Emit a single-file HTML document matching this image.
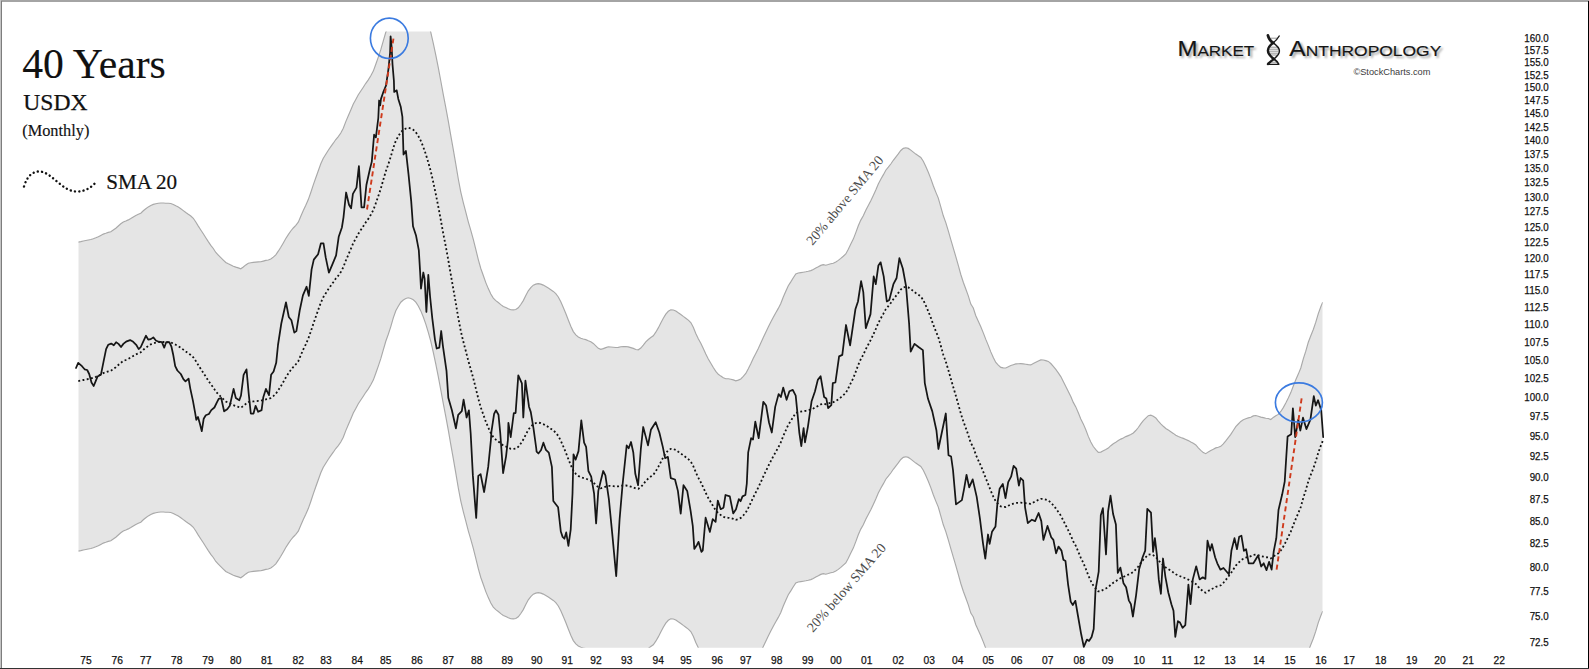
<!DOCTYPE html>
<html lang="en"><head><meta charset="utf-8"><title>40 Years USDX (Monthly)</title>
<style>
html,body{margin:0;padding:0;background:#fff;}
body{width:1589px;height:669px;overflow:hidden;}
svg{display:block;}
.serif{font-family:"Liberation Serif",serif;}
.sans{font-family:"Liberation Sans",sans-serif;}
</style></head><body>
<svg width="1589" height="669" viewBox="0 0 1589 669">
<defs>
<clipPath id="plot"><rect x="78.3" y="31.5" width="1244.4" height="616.2"/></clipPath>
<filter id="blur" x="-10%" y="-40%" width="120%" height="200%"><feGaussianBlur stdDeviation="1.3"/></filter>
</defs>
<rect x="0" y="0" width="1589" height="669" fill="#fff"/>
<g clip-path="url(#plot)">
<path d="M78.3,242.1L80.8,241.6L83.3,241.0L85.8,240.5L88.3,240.0L90.8,239.5L93.3,238.7L95.8,237.8L98.3,236.8L100.8,235.4L103.3,234.1L105.8,233.3L108.3,232.4L110.8,231.8L113.3,230.0L115.8,228.2L118.3,226.0L120.8,223.8L123.3,222.0L125.8,221.0L128.3,219.9L130.8,218.5L133.3,216.9L135.8,215.4L138.3,214.3L140.8,213.2L143.3,210.8L145.8,208.8L148.3,206.9L150.8,205.4L153.3,204.4L155.8,203.7L158.3,203.2L160.8,203.0L163.3,203.0L165.8,203.2L168.3,203.3L170.8,203.5L173.3,204.4L175.8,205.8L178.3,207.1L180.8,208.7L183.3,210.6L185.8,212.5L188.3,214.3L190.8,216.0L193.3,218.3L195.8,222.0L198.3,226.1L200.8,230.0L203.3,233.8L205.8,237.7L208.3,241.6L210.8,245.3L213.3,248.5L215.8,252.5L218.3,255.1L220.8,257.6L223.3,260.1L225.8,262.5L228.3,263.8L230.8,264.9L233.3,266.2L235.8,267.1L238.3,267.9L240.8,268.8L243.3,267.0L245.8,264.9L248.3,263.2L250.8,262.8L253.3,262.4L255.8,262.1L258.3,261.9L260.8,261.8L263.3,261.1L265.8,260.4L268.3,260.0L270.8,259.0L273.3,257.1L275.8,254.8L278.3,251.2L280.8,247.3L283.3,243.0L285.8,238.5L288.3,234.6L290.8,231.0L293.3,228.0L295.8,225.3L298.3,222.2L300.8,216.2L303.3,210.4L305.8,205.3L308.3,199.6L310.8,192.5L313.3,184.9L315.8,177.8L318.3,170.7L320.8,163.7L323.3,158.2L325.8,154.2L328.3,150.2L330.8,146.7L333.3,143.2L335.8,139.5L338.3,136.6L340.8,133.0L343.3,128.3L345.8,121.6L348.3,115.8L350.8,110.0L353.3,104.0L355.8,99.5L358.3,94.8L360.8,91.0L363.3,87.2L365.8,83.3L368.3,79.9L370.8,75.7L373.3,71.1L375.8,64.3L378.3,57.1L380.8,49.7L383.3,40.8L385.8,32.3L388.3,25.3L390.8,17.6L393.3,8.9L395.8,1.8L398.3,-2.8L400.8,-6.8L403.3,-9.0L405.8,-10.5L408.3,-11.2L410.8,-10.5L413.3,-9.2L415.8,-6.8L418.3,-3.0L420.8,1.9L423.3,8.0L425.8,15.1L428.3,23.4L430.8,32.3L433.3,43.4L435.8,55.1L438.3,67.7L440.8,81.0L443.3,94.7L445.8,107.6L448.3,121.1L450.8,135.7L453.3,149.7L455.8,164.1L458.3,179.0L460.8,192.1L463.3,202.6L465.8,212.1L468.3,221.8L470.8,230.4L473.3,239.4L475.8,249.4L478.3,259.6L480.8,268.5L483.3,275.5L485.8,282.6L488.3,288.6L490.8,294.1L493.3,298.1L495.8,300.6L498.3,302.5L500.8,304.6L503.3,306.5L505.8,307.5L508.3,308.7L510.8,309.8L513.3,309.9L515.8,309.5L518.3,307.8L520.8,304.5L523.3,300.6L525.8,295.6L528.3,290.8L530.8,287.6L533.3,285.2L535.8,284.1L538.3,283.6L540.8,284.1L543.3,285.1L545.8,286.5L548.3,288.0L550.8,289.7L553.3,291.4L555.8,293.7L558.3,297.0L560.8,301.7L563.3,307.5L565.8,313.5L568.3,320.0L570.8,326.2L573.3,331.6L575.8,334.9L578.3,336.9L580.8,338.3L583.3,339.0L585.8,339.6L588.3,340.7L590.8,341.7L593.3,343.4L595.8,345.8L598.3,348.3L600.8,349.3L603.3,348.6L605.8,347.6L608.3,346.8L610.8,347.0L613.3,347.2L615.8,347.5L618.3,347.4L620.8,346.7L623.3,346.6L625.8,346.5L628.3,346.9L630.8,347.6L633.3,348.4L635.8,349.5L638.3,349.8L640.8,348.1L643.3,345.2L645.8,341.9L648.3,339.5L650.8,337.5L653.3,335.8L655.8,332.2L658.3,327.9L660.8,323.1L663.3,318.2L665.8,314.1L668.3,311.3L670.8,309.8L673.3,310.0L675.8,311.0L678.3,312.8L680.8,314.5L683.3,316.4L685.8,318.2L688.3,320.1L690.8,322.6L693.3,327.2L695.8,333.4L698.3,338.7L700.8,343.2L703.3,348.5L705.8,354.0L708.3,359.0L710.8,363.2L713.3,367.5L715.8,371.4L718.3,374.3L720.8,376.1L723.3,377.8L725.8,378.7L728.3,378.8L730.8,379.2L733.3,379.9L735.8,380.9L738.3,380.1L740.8,378.9L743.3,376.4L745.8,373.5L748.3,368.8L750.8,363.7L753.3,358.3L755.8,353.4L758.3,348.5L760.8,343.1L763.3,337.5L765.8,332.3L768.3,327.1L770.8,322.1L773.3,317.3L775.8,312.8L778.3,308.4L780.8,303.4L783.3,297.0L785.8,291.3L788.3,285.7L790.8,281.9L793.3,277.8L795.8,273.9L798.3,273.0L800.8,272.6L803.3,272.2L805.8,271.8L808.3,271.3L810.8,270.6L813.3,269.5L815.8,268.1L818.3,266.8L820.8,265.4L823.3,264.6L825.8,265.2L828.3,264.5L830.8,263.7L833.3,263.2L835.8,261.9L838.3,260.4L840.8,258.4L843.3,256.2L845.8,253.9L848.3,249.3L850.8,244.1L853.3,239.1L855.8,232.6L858.3,225.8L860.8,220.1L863.3,215.7L865.8,210.2L868.3,205.5L870.8,200.8L873.3,195.5L875.8,190.0L878.3,184.1L880.8,179.3L883.3,174.9L885.8,170.2L888.3,167.2L890.8,164.0L893.3,160.3L895.8,157.1L898.3,153.9L900.8,150.5L903.3,148.4L905.8,147.8L908.3,148.4L910.8,150.1L913.3,152.1L915.8,154.1L918.3,155.7L920.8,157.5L923.3,161.2L925.8,166.5L928.3,172.3L930.8,178.6L933.3,185.8L935.8,192.1L938.3,198.1L940.8,206.8L943.3,215.8L945.8,222.6L948.3,230.9L950.8,239.7L953.3,248.2L955.8,256.6L958.3,265.3L960.8,274.5L963.3,282.2L965.8,289.0L968.3,295.9L970.8,304.1L973.3,308.0L975.8,315.7L978.3,321.3L980.8,326.7L983.3,332.9L985.8,339.4L988.3,345.4L990.8,351.9L993.3,357.6L995.8,362.5L998.3,365.1L1000.8,367.4L1003.3,367.9L1005.8,368.0L1008.3,366.7L1010.8,365.5L1013.3,364.7L1015.8,363.9L1018.3,363.8L1020.8,363.6L1023.3,363.9L1025.8,364.2L1028.3,364.6L1030.8,364.9L1033.3,363.5L1035.8,362.2L1038.3,360.9L1040.8,359.9L1043.3,360.0L1045.8,360.6L1048.3,361.4L1050.8,363.5L1053.3,366.3L1055.8,369.4L1058.3,372.9L1060.8,376.6L1063.3,381.5L1065.8,386.5L1068.3,391.4L1070.8,396.6L1073.3,402.4L1075.8,406.9L1078.3,412.8L1080.8,418.9L1083.3,423.9L1085.8,429.8L1088.3,436.4L1090.8,441.9L1093.3,446.5L1095.8,449.7L1098.3,452.4L1100.8,452.1L1103.3,450.7L1105.8,449.5L1108.3,448.1L1110.8,445.7L1113.3,443.7L1115.8,442.2L1118.3,440.6L1120.8,439.1L1123.3,438.0L1125.8,436.6L1128.3,435.6L1130.8,434.6L1133.3,433.0L1135.8,430.5L1138.3,427.5L1140.8,423.9L1143.3,420.6L1145.8,418.2L1148.3,415.7L1150.8,415.2L1153.3,416.2L1155.8,417.9L1158.3,421.1L1160.8,423.8L1163.3,426.3L1165.8,428.5L1168.3,430.1L1170.8,431.7L1173.3,433.4L1175.8,435.3L1178.3,436.5L1180.8,437.5L1183.3,438.4L1185.8,439.5L1188.3,440.6L1190.8,442.0L1193.3,443.3L1195.8,444.9L1198.3,447.8L1200.8,450.3L1203.3,452.6L1205.8,453.7L1208.3,451.9L1210.8,450.5L1213.3,449.3L1215.8,447.9L1218.3,447.2L1220.8,446.3L1223.3,443.9L1225.8,440.9L1228.3,437.6L1230.8,434.3L1233.3,430.5L1235.8,426.6L1238.3,424.0L1240.8,421.4L1243.3,419.7L1245.8,418.7L1248.3,417.9L1250.8,417.2L1253.3,415.9L1255.8,415.5L1258.3,416.3L1260.8,417.1L1263.3,417.6L1265.8,418.2L1268.3,418.5L1270.8,419.5L1273.3,417.4L1275.8,415.8L1278.3,414.4L1280.8,411.5L1283.3,407.6L1285.8,402.9L1288.3,397.9L1290.8,392.6L1293.3,386.0L1295.8,379.8L1298.3,374.1L1300.8,368.0L1303.3,358.8L1305.8,351.2L1308.3,342.3L1310.8,335.7L1313.3,329.5L1315.8,322.2L1318.3,313.6L1320.8,306.8L1322.7,302.1L1322.7,611.1L1320.8,615.8L1318.3,622.6L1315.8,631.2L1313.3,638.5L1310.8,644.7L1308.3,651.3L1305.8,660.2L1303.3,667.8L1300.8,677.0L1298.3,683.1L1295.8,688.8L1293.3,695.0L1290.8,701.6L1288.3,706.9L1285.8,711.9L1283.3,716.6L1280.8,720.5L1278.3,723.4L1275.8,724.8L1273.3,726.4L1270.8,728.5L1268.3,727.5L1265.8,727.2L1263.3,726.6L1260.8,726.1L1258.3,725.3L1255.8,724.5L1253.3,724.9L1250.8,726.2L1248.3,726.9L1245.8,727.7L1243.3,728.7L1240.8,730.4L1238.3,733.0L1235.8,735.6L1233.3,739.5L1230.8,743.3L1228.3,746.6L1225.8,749.9L1223.3,752.9L1220.8,755.3L1218.3,756.2L1215.8,756.9L1213.3,758.3L1210.8,759.5L1208.3,760.9L1205.8,762.7L1203.3,761.6L1200.8,759.3L1198.3,756.8L1195.8,753.9L1193.3,752.3L1190.8,751.0L1188.3,749.6L1185.8,748.5L1183.3,747.4L1180.8,746.5L1178.3,745.5L1175.8,744.3L1173.3,742.4L1170.8,740.7L1168.3,739.1L1165.8,737.5L1163.3,735.3L1160.8,732.8L1158.3,730.1L1155.8,726.9L1153.3,725.2L1150.8,724.2L1148.3,724.7L1145.8,727.2L1143.3,729.6L1140.8,732.9L1138.3,736.5L1135.8,739.5L1133.3,742.0L1130.8,743.6L1128.3,744.6L1125.8,745.6L1123.3,747.0L1120.8,748.1L1118.3,749.6L1115.8,751.2L1113.3,752.7L1110.8,754.7L1108.3,757.1L1105.8,758.5L1103.3,759.7L1100.8,761.1L1098.3,761.4L1095.8,758.7L1093.3,755.5L1090.8,750.9L1088.3,745.4L1085.8,738.8L1083.3,732.9L1080.8,727.9L1078.3,721.8L1075.8,715.9L1073.3,711.4L1070.8,705.6L1068.3,700.4L1065.8,695.5L1063.3,690.5L1060.8,685.6L1058.3,681.9L1055.8,678.4L1053.3,675.3L1050.8,672.5L1048.3,670.4L1045.8,669.6L1043.3,669.0L1040.8,668.9L1038.3,669.9L1035.8,671.2L1033.3,672.5L1030.8,673.9L1028.3,673.6L1025.8,673.2L1023.3,672.9L1020.8,672.6L1018.3,672.8L1015.8,672.9L1013.3,673.7L1010.8,674.5L1008.3,675.7L1005.8,677.0L1003.3,676.9L1000.8,676.4L998.3,674.1L995.8,671.5L993.3,666.6L990.8,660.9L988.3,654.4L985.8,648.4L983.3,641.9L980.8,635.7L978.3,630.3L975.8,624.7L973.3,617.0L970.8,613.1L968.3,604.9L965.8,598.0L963.3,591.2L960.8,583.5L958.3,574.3L955.8,565.6L953.3,557.2L950.8,548.7L948.3,539.9L945.8,531.6L943.3,524.8L940.8,515.8L938.3,507.1L935.8,501.1L933.3,494.8L930.8,487.6L928.3,481.3L925.8,475.5L923.3,470.2L920.8,466.5L918.3,464.7L915.8,463.1L913.3,461.1L910.8,459.1L908.3,457.4L905.8,456.8L903.3,457.4L900.8,459.5L898.3,462.9L895.8,466.1L893.3,469.3L890.8,473.0L888.3,476.2L885.8,479.2L883.3,483.9L880.8,488.3L878.3,493.1L875.8,499.0L873.3,504.5L870.8,509.8L868.3,514.5L865.8,519.2L863.3,524.7L860.8,529.1L858.3,534.8L855.8,541.6L853.3,548.1L850.8,553.1L848.3,558.3L845.8,562.9L843.3,565.2L840.8,567.4L838.3,569.4L835.8,570.9L833.3,572.2L830.8,572.7L828.3,573.5L825.8,574.2L823.3,573.6L820.8,574.4L818.3,575.8L815.8,577.1L813.3,578.5L810.8,579.6L808.3,580.3L805.8,580.8L803.3,581.2L800.8,581.6L798.3,582.0L795.8,582.9L793.3,586.8L790.8,590.9L788.3,594.7L785.8,600.3L783.3,606.0L780.8,612.4L778.3,617.4L775.8,621.8L773.3,626.3L770.8,631.1L768.3,636.1L765.8,641.3L763.3,646.5L760.8,652.1L758.3,657.5L755.8,662.4L753.3,667.3L750.8,672.7L748.3,677.8L745.8,682.5L743.3,685.4L740.8,687.9L738.3,689.1L735.8,689.9L733.3,688.9L730.8,688.2L728.3,687.8L725.8,687.7L723.3,686.8L720.8,685.1L718.3,683.3L715.8,680.4L713.3,676.5L710.8,672.2L708.3,668.0L705.8,663.0L703.3,657.5L700.8,652.2L698.3,647.7L695.8,642.4L693.3,636.2L690.8,631.6L688.3,629.1L685.8,627.2L683.3,625.4L680.8,623.5L678.3,621.8L675.8,620.0L673.3,619.0L670.8,618.8L668.3,620.3L665.8,623.1L663.3,627.2L660.8,632.1L658.3,636.9L655.8,641.2L653.3,644.8L650.8,646.5L648.3,648.5L645.8,650.9L643.3,654.2L640.8,657.1L638.3,658.8L635.8,658.5L633.3,657.4L630.8,656.6L628.3,655.9L625.8,655.5L623.3,655.6L620.8,655.7L618.3,656.4L615.8,656.5L613.3,656.2L610.8,656.0L608.3,655.8L605.8,656.6L603.3,657.6L600.8,658.3L598.3,657.3L595.8,654.8L593.3,652.4L590.8,650.7L588.3,649.7L585.8,648.6L583.3,648.0L580.8,647.3L578.3,645.9L575.8,643.9L573.3,640.6L570.8,635.2L568.3,629.0L565.8,622.5L563.3,616.5L560.8,610.7L558.3,606.0L555.8,602.7L553.3,600.4L550.8,598.7L548.3,597.0L545.8,595.5L543.3,594.1L540.8,593.1L538.3,592.6L535.8,593.1L533.3,594.2L530.8,596.6L528.3,599.8L525.8,604.6L523.3,609.6L520.8,613.5L518.3,616.8L515.8,618.5L513.3,618.9L510.8,618.8L508.3,617.7L505.8,616.5L503.3,615.5L500.8,613.6L498.3,611.5L495.8,609.6L493.3,607.1L490.8,603.1L488.3,597.6L485.8,591.6L483.3,584.5L480.8,577.5L478.3,568.6L475.8,558.4L473.3,548.4L470.8,539.4L468.3,530.8L465.8,521.1L463.3,511.6L460.8,501.1L458.3,488.0L455.8,473.1L453.3,458.7L450.8,444.7L448.3,430.1L445.8,416.6L443.3,403.7L440.8,390.0L438.3,376.7L435.8,364.1L433.3,352.4L430.8,341.3L428.3,332.4L425.8,324.1L423.3,317.0L420.8,310.9L418.3,306.0L415.8,302.2L413.3,299.8L410.8,298.5L408.3,297.8L405.8,298.5L403.3,300.0L400.8,302.2L398.3,306.2L395.8,310.8L393.3,317.9L390.8,326.6L388.3,334.3L385.8,341.3L383.3,349.8L380.8,358.7L378.3,366.1L375.8,373.3L373.3,380.1L370.8,384.7L368.3,388.9L365.8,392.3L363.3,396.2L360.8,400.0L358.3,403.8L355.8,408.5L353.3,413.0L350.8,419.0L348.3,424.8L345.8,430.6L343.3,437.3L340.8,442.0L338.3,445.6L335.8,448.5L333.3,452.2L330.8,455.7L328.3,459.2L325.8,463.2L323.3,467.2L320.8,472.7L318.3,479.7L315.8,486.8L313.3,493.9L310.8,501.5L308.3,508.6L305.8,514.3L303.3,519.4L300.8,525.2L298.3,531.2L295.8,534.3L293.3,537.0L290.8,540.0L288.3,543.6L285.8,547.5L283.3,552.0L280.8,556.3L278.3,560.2L275.8,563.8L273.3,566.1L270.8,568.0L268.3,569.0L265.8,569.4L263.3,570.1L260.8,570.8L258.3,570.9L255.8,571.1L253.3,571.4L250.8,571.8L248.3,572.2L245.8,573.9L243.3,576.0L240.8,577.8L238.3,576.9L235.8,576.1L233.3,575.2L230.8,573.9L228.3,572.8L225.8,571.5L223.3,569.1L220.8,566.6L218.3,564.1L215.8,561.5L213.3,557.5L210.8,554.3L208.3,550.6L205.8,546.7L203.3,542.8L200.8,539.0L198.3,535.1L195.8,531.0L193.3,527.3L190.8,525.0L188.3,523.3L185.8,521.5L183.3,519.6L180.8,517.7L178.3,516.1L175.8,514.8L173.3,513.4L170.8,512.5L168.3,512.3L165.8,512.2L163.3,512.0L160.8,512.0L158.3,512.2L155.8,512.7L153.3,513.4L150.8,514.4L148.3,515.9L145.8,517.8L143.3,519.8L140.8,522.2L138.3,523.3L135.8,524.4L133.3,525.9L130.8,527.5L128.3,528.9L125.8,530.0L123.3,531.0L120.8,532.8L118.3,535.0L115.8,537.2L113.3,539.0L110.8,540.8L108.3,541.4L105.8,542.3L103.3,543.1L100.8,544.4L98.3,545.8L95.8,546.8L93.3,547.7L90.8,548.5L88.3,549.0L85.8,549.5L83.3,550.0L80.8,550.6L78.3,551.1Z" fill="#e5e5e5" stroke="none"/>
<path d="M78.3,242.1L80.8,241.6L83.3,241.0L85.8,240.5L88.3,240.0L90.8,239.5L93.3,238.7L95.8,237.8L98.3,236.8L100.8,235.4L103.3,234.1L105.8,233.3L108.3,232.4L110.8,231.8L113.3,230.0L115.8,228.2L118.3,226.0L120.8,223.8L123.3,222.0L125.8,221.0L128.3,219.9L130.8,218.5L133.3,216.9L135.8,215.4L138.3,214.3L140.8,213.2L143.3,210.8L145.8,208.8L148.3,206.9L150.8,205.4L153.3,204.4L155.8,203.7L158.3,203.2L160.8,203.0L163.3,203.0L165.8,203.2L168.3,203.3L170.8,203.5L173.3,204.4L175.8,205.8L178.3,207.1L180.8,208.7L183.3,210.6L185.8,212.5L188.3,214.3L190.8,216.0L193.3,218.3L195.8,222.0L198.3,226.1L200.8,230.0L203.3,233.8L205.8,237.7L208.3,241.6L210.8,245.3L213.3,248.5L215.8,252.5L218.3,255.1L220.8,257.6L223.3,260.1L225.8,262.5L228.3,263.8L230.8,264.9L233.3,266.2L235.8,267.1L238.3,267.9L240.8,268.8L243.3,267.0L245.8,264.9L248.3,263.2L250.8,262.8L253.3,262.4L255.8,262.1L258.3,261.9L260.8,261.8L263.3,261.1L265.8,260.4L268.3,260.0L270.8,259.0L273.3,257.1L275.8,254.8L278.3,251.2L280.8,247.3L283.3,243.0L285.8,238.5L288.3,234.6L290.8,231.0L293.3,228.0L295.8,225.3L298.3,222.2L300.8,216.2L303.3,210.4L305.8,205.3L308.3,199.6L310.8,192.5L313.3,184.9L315.8,177.8L318.3,170.7L320.8,163.7L323.3,158.2L325.8,154.2L328.3,150.2L330.8,146.7L333.3,143.2L335.8,139.5L338.3,136.6L340.8,133.0L343.3,128.3L345.8,121.6L348.3,115.8L350.8,110.0L353.3,104.0L355.8,99.5L358.3,94.8L360.8,91.0L363.3,87.2L365.8,83.3L368.3,79.9L370.8,75.7L373.3,71.1L375.8,64.3L378.3,57.1L380.8,49.7L383.3,40.8L385.8,32.3L388.3,25.3L390.8,17.6L393.3,8.9L395.8,1.8L398.3,-2.8L400.8,-6.8L403.3,-9.0L405.8,-10.5L408.3,-11.2L410.8,-10.5L413.3,-9.2L415.8,-6.8L418.3,-3.0L420.8,1.9L423.3,8.0L425.8,15.1L428.3,23.4L430.8,32.3L433.3,43.4L435.8,55.1L438.3,67.7L440.8,81.0L443.3,94.7L445.8,107.6L448.3,121.1L450.8,135.7L453.3,149.7L455.8,164.1L458.3,179.0L460.8,192.1L463.3,202.6L465.8,212.1L468.3,221.8L470.8,230.4L473.3,239.4L475.8,249.4L478.3,259.6L480.8,268.5L483.3,275.5L485.8,282.6L488.3,288.6L490.8,294.1L493.3,298.1L495.8,300.6L498.3,302.5L500.8,304.6L503.3,306.5L505.8,307.5L508.3,308.7L510.8,309.8L513.3,309.9L515.8,309.5L518.3,307.8L520.8,304.5L523.3,300.6L525.8,295.6L528.3,290.8L530.8,287.6L533.3,285.2L535.8,284.1L538.3,283.6L540.8,284.1L543.3,285.1L545.8,286.5L548.3,288.0L550.8,289.7L553.3,291.4L555.8,293.7L558.3,297.0L560.8,301.7L563.3,307.5L565.8,313.5L568.3,320.0L570.8,326.2L573.3,331.6L575.8,334.9L578.3,336.9L580.8,338.3L583.3,339.0L585.8,339.6L588.3,340.7L590.8,341.7L593.3,343.4L595.8,345.8L598.3,348.3L600.8,349.3L603.3,348.6L605.8,347.6L608.3,346.8L610.8,347.0L613.3,347.2L615.8,347.5L618.3,347.4L620.8,346.7L623.3,346.6L625.8,346.5L628.3,346.9L630.8,347.6L633.3,348.4L635.8,349.5L638.3,349.8L640.8,348.1L643.3,345.2L645.8,341.9L648.3,339.5L650.8,337.5L653.3,335.8L655.8,332.2L658.3,327.9L660.8,323.1L663.3,318.2L665.8,314.1L668.3,311.3L670.8,309.8L673.3,310.0L675.8,311.0L678.3,312.8L680.8,314.5L683.3,316.4L685.8,318.2L688.3,320.1L690.8,322.6L693.3,327.2L695.8,333.4L698.3,338.7L700.8,343.2L703.3,348.5L705.8,354.0L708.3,359.0L710.8,363.2L713.3,367.5L715.8,371.4L718.3,374.3L720.8,376.1L723.3,377.8L725.8,378.7L728.3,378.8L730.8,379.2L733.3,379.9L735.8,380.9L738.3,380.1L740.8,378.9L743.3,376.4L745.8,373.5L748.3,368.8L750.8,363.7L753.3,358.3L755.8,353.4L758.3,348.5L760.8,343.1L763.3,337.5L765.8,332.3L768.3,327.1L770.8,322.1L773.3,317.3L775.8,312.8L778.3,308.4L780.8,303.4L783.3,297.0L785.8,291.3L788.3,285.7L790.8,281.9L793.3,277.8L795.8,273.9L798.3,273.0L800.8,272.6L803.3,272.2L805.8,271.8L808.3,271.3L810.8,270.6L813.3,269.5L815.8,268.1L818.3,266.8L820.8,265.4L823.3,264.6L825.8,265.2L828.3,264.5L830.8,263.7L833.3,263.2L835.8,261.9L838.3,260.4L840.8,258.4L843.3,256.2L845.8,253.9L848.3,249.3L850.8,244.1L853.3,239.1L855.8,232.6L858.3,225.8L860.8,220.1L863.3,215.7L865.8,210.2L868.3,205.5L870.8,200.8L873.3,195.5L875.8,190.0L878.3,184.1L880.8,179.3L883.3,174.9L885.8,170.2L888.3,167.2L890.8,164.0L893.3,160.3L895.8,157.1L898.3,153.9L900.8,150.5L903.3,148.4L905.8,147.8L908.3,148.4L910.8,150.1L913.3,152.1L915.8,154.1L918.3,155.7L920.8,157.5L923.3,161.2L925.8,166.5L928.3,172.3L930.8,178.6L933.3,185.8L935.8,192.1L938.3,198.1L940.8,206.8L943.3,215.8L945.8,222.6L948.3,230.9L950.8,239.7L953.3,248.2L955.8,256.6L958.3,265.3L960.8,274.5L963.3,282.2L965.8,289.0L968.3,295.9L970.8,304.1L973.3,308.0L975.8,315.7L978.3,321.3L980.8,326.7L983.3,332.9L985.8,339.4L988.3,345.4L990.8,351.9L993.3,357.6L995.8,362.5L998.3,365.1L1000.8,367.4L1003.3,367.9L1005.8,368.0L1008.3,366.7L1010.8,365.5L1013.3,364.7L1015.8,363.9L1018.3,363.8L1020.8,363.6L1023.3,363.9L1025.8,364.2L1028.3,364.6L1030.8,364.9L1033.3,363.5L1035.8,362.2L1038.3,360.9L1040.8,359.9L1043.3,360.0L1045.8,360.6L1048.3,361.4L1050.8,363.5L1053.3,366.3L1055.8,369.4L1058.3,372.9L1060.8,376.6L1063.3,381.5L1065.8,386.5L1068.3,391.4L1070.8,396.6L1073.3,402.4L1075.8,406.9L1078.3,412.8L1080.8,418.9L1083.3,423.9L1085.8,429.8L1088.3,436.4L1090.8,441.9L1093.3,446.5L1095.8,449.7L1098.3,452.4L1100.8,452.1L1103.3,450.7L1105.8,449.5L1108.3,448.1L1110.8,445.7L1113.3,443.7L1115.8,442.2L1118.3,440.6L1120.8,439.1L1123.3,438.0L1125.8,436.6L1128.3,435.6L1130.8,434.6L1133.3,433.0L1135.8,430.5L1138.3,427.5L1140.8,423.9L1143.3,420.6L1145.8,418.2L1148.3,415.7L1150.8,415.2L1153.3,416.2L1155.8,417.9L1158.3,421.1L1160.8,423.8L1163.3,426.3L1165.8,428.5L1168.3,430.1L1170.8,431.7L1173.3,433.4L1175.8,435.3L1178.3,436.5L1180.8,437.5L1183.3,438.4L1185.8,439.5L1188.3,440.6L1190.8,442.0L1193.3,443.3L1195.8,444.9L1198.3,447.8L1200.8,450.3L1203.3,452.6L1205.8,453.7L1208.3,451.9L1210.8,450.5L1213.3,449.3L1215.8,447.9L1218.3,447.2L1220.8,446.3L1223.3,443.9L1225.8,440.9L1228.3,437.6L1230.8,434.3L1233.3,430.5L1235.8,426.6L1238.3,424.0L1240.8,421.4L1243.3,419.7L1245.8,418.7L1248.3,417.9L1250.8,417.2L1253.3,415.9L1255.8,415.5L1258.3,416.3L1260.8,417.1L1263.3,417.6L1265.8,418.2L1268.3,418.5L1270.8,419.5L1273.3,417.4L1275.8,415.8L1278.3,414.4L1280.8,411.5L1283.3,407.6L1285.8,402.9L1288.3,397.9L1290.8,392.6L1293.3,386.0L1295.8,379.8L1298.3,374.1L1300.8,368.0L1303.3,358.8L1305.8,351.2L1308.3,342.3L1310.8,335.7L1313.3,329.5L1315.8,322.2L1318.3,313.6L1320.8,306.8L1322.7,302.1" fill="none" stroke="#a9a9a9" stroke-width="1.15"/>
<path d="M1322.7,611.1L1320.8,615.8L1318.3,622.6L1315.8,631.2L1313.3,638.5L1310.8,644.7L1308.3,651.3L1305.8,660.2L1303.3,667.8L1300.8,677.0L1298.3,683.1L1295.8,688.8L1293.3,695.0L1290.8,701.6L1288.3,706.9L1285.8,711.9L1283.3,716.6L1280.8,720.5L1278.3,723.4L1275.8,724.8L1273.3,726.4L1270.8,728.5L1268.3,727.5L1265.8,727.2L1263.3,726.6L1260.8,726.1L1258.3,725.3L1255.8,724.5L1253.3,724.9L1250.8,726.2L1248.3,726.9L1245.8,727.7L1243.3,728.7L1240.8,730.4L1238.3,733.0L1235.8,735.6L1233.3,739.5L1230.8,743.3L1228.3,746.6L1225.8,749.9L1223.3,752.9L1220.8,755.3L1218.3,756.2L1215.8,756.9L1213.3,758.3L1210.8,759.5L1208.3,760.9L1205.8,762.7L1203.3,761.6L1200.8,759.3L1198.3,756.8L1195.8,753.9L1193.3,752.3L1190.8,751.0L1188.3,749.6L1185.8,748.5L1183.3,747.4L1180.8,746.5L1178.3,745.5L1175.8,744.3L1173.3,742.4L1170.8,740.7L1168.3,739.1L1165.8,737.5L1163.3,735.3L1160.8,732.8L1158.3,730.1L1155.8,726.9L1153.3,725.2L1150.8,724.2L1148.3,724.7L1145.8,727.2L1143.3,729.6L1140.8,732.9L1138.3,736.5L1135.8,739.5L1133.3,742.0L1130.8,743.6L1128.3,744.6L1125.8,745.6L1123.3,747.0L1120.8,748.1L1118.3,749.6L1115.8,751.2L1113.3,752.7L1110.8,754.7L1108.3,757.1L1105.8,758.5L1103.3,759.7L1100.8,761.1L1098.3,761.4L1095.8,758.7L1093.3,755.5L1090.8,750.9L1088.3,745.4L1085.8,738.8L1083.3,732.9L1080.8,727.9L1078.3,721.8L1075.8,715.9L1073.3,711.4L1070.8,705.6L1068.3,700.4L1065.8,695.5L1063.3,690.5L1060.8,685.6L1058.3,681.9L1055.8,678.4L1053.3,675.3L1050.8,672.5L1048.3,670.4L1045.8,669.6L1043.3,669.0L1040.8,668.9L1038.3,669.9L1035.8,671.2L1033.3,672.5L1030.8,673.9L1028.3,673.6L1025.8,673.2L1023.3,672.9L1020.8,672.6L1018.3,672.8L1015.8,672.9L1013.3,673.7L1010.8,674.5L1008.3,675.7L1005.8,677.0L1003.3,676.9L1000.8,676.4L998.3,674.1L995.8,671.5L993.3,666.6L990.8,660.9L988.3,654.4L985.8,648.4L983.3,641.9L980.8,635.7L978.3,630.3L975.8,624.7L973.3,617.0L970.8,613.1L968.3,604.9L965.8,598.0L963.3,591.2L960.8,583.5L958.3,574.3L955.8,565.6L953.3,557.2L950.8,548.7L948.3,539.9L945.8,531.6L943.3,524.8L940.8,515.8L938.3,507.1L935.8,501.1L933.3,494.8L930.8,487.6L928.3,481.3L925.8,475.5L923.3,470.2L920.8,466.5L918.3,464.7L915.8,463.1L913.3,461.1L910.8,459.1L908.3,457.4L905.8,456.8L903.3,457.4L900.8,459.5L898.3,462.9L895.8,466.1L893.3,469.3L890.8,473.0L888.3,476.2L885.8,479.2L883.3,483.9L880.8,488.3L878.3,493.1L875.8,499.0L873.3,504.5L870.8,509.8L868.3,514.5L865.8,519.2L863.3,524.7L860.8,529.1L858.3,534.8L855.8,541.6L853.3,548.1L850.8,553.1L848.3,558.3L845.8,562.9L843.3,565.2L840.8,567.4L838.3,569.4L835.8,570.9L833.3,572.2L830.8,572.7L828.3,573.5L825.8,574.2L823.3,573.6L820.8,574.4L818.3,575.8L815.8,577.1L813.3,578.5L810.8,579.6L808.3,580.3L805.8,580.8L803.3,581.2L800.8,581.6L798.3,582.0L795.8,582.9L793.3,586.8L790.8,590.9L788.3,594.7L785.8,600.3L783.3,606.0L780.8,612.4L778.3,617.4L775.8,621.8L773.3,626.3L770.8,631.1L768.3,636.1L765.8,641.3L763.3,646.5L760.8,652.1L758.3,657.5L755.8,662.4L753.3,667.3L750.8,672.7L748.3,677.8L745.8,682.5L743.3,685.4L740.8,687.9L738.3,689.1L735.8,689.9L733.3,688.9L730.8,688.2L728.3,687.8L725.8,687.7L723.3,686.8L720.8,685.1L718.3,683.3L715.8,680.4L713.3,676.5L710.8,672.2L708.3,668.0L705.8,663.0L703.3,657.5L700.8,652.2L698.3,647.7L695.8,642.4L693.3,636.2L690.8,631.6L688.3,629.1L685.8,627.2L683.3,625.4L680.8,623.5L678.3,621.8L675.8,620.0L673.3,619.0L670.8,618.8L668.3,620.3L665.8,623.1L663.3,627.2L660.8,632.1L658.3,636.9L655.8,641.2L653.3,644.8L650.8,646.5L648.3,648.5L645.8,650.9L643.3,654.2L640.8,657.1L638.3,658.8L635.8,658.5L633.3,657.4L630.8,656.6L628.3,655.9L625.8,655.5L623.3,655.6L620.8,655.7L618.3,656.4L615.8,656.5L613.3,656.2L610.8,656.0L608.3,655.8L605.8,656.6L603.3,657.6L600.8,658.3L598.3,657.3L595.8,654.8L593.3,652.4L590.8,650.7L588.3,649.7L585.8,648.6L583.3,648.0L580.8,647.3L578.3,645.9L575.8,643.9L573.3,640.6L570.8,635.2L568.3,629.0L565.8,622.5L563.3,616.5L560.8,610.7L558.3,606.0L555.8,602.7L553.3,600.4L550.8,598.7L548.3,597.0L545.8,595.5L543.3,594.1L540.8,593.1L538.3,592.6L535.8,593.1L533.3,594.2L530.8,596.6L528.3,599.8L525.8,604.6L523.3,609.6L520.8,613.5L518.3,616.8L515.8,618.5L513.3,618.9L510.8,618.8L508.3,617.7L505.8,616.5L503.3,615.5L500.8,613.6L498.3,611.5L495.8,609.6L493.3,607.1L490.8,603.1L488.3,597.6L485.8,591.6L483.3,584.5L480.8,577.5L478.3,568.6L475.8,558.4L473.3,548.4L470.8,539.4L468.3,530.8L465.8,521.1L463.3,511.6L460.8,501.1L458.3,488.0L455.8,473.1L453.3,458.7L450.8,444.7L448.3,430.1L445.8,416.6L443.3,403.7L440.8,390.0L438.3,376.7L435.8,364.1L433.3,352.4L430.8,341.3L428.3,332.4L425.8,324.1L423.3,317.0L420.8,310.9L418.3,306.0L415.8,302.2L413.3,299.8L410.8,298.5L408.3,297.8L405.8,298.5L403.3,300.0L400.8,302.2L398.3,306.2L395.8,310.8L393.3,317.9L390.8,326.6L388.3,334.3L385.8,341.3L383.3,349.8L380.8,358.7L378.3,366.1L375.8,373.3L373.3,380.1L370.8,384.7L368.3,388.9L365.8,392.3L363.3,396.2L360.8,400.0L358.3,403.8L355.8,408.5L353.3,413.0L350.8,419.0L348.3,424.8L345.8,430.6L343.3,437.3L340.8,442.0L338.3,445.6L335.8,448.5L333.3,452.2L330.8,455.7L328.3,459.2L325.8,463.2L323.3,467.2L320.8,472.7L318.3,479.7L315.8,486.8L313.3,493.9L310.8,501.5L308.3,508.6L305.8,514.3L303.3,519.4L300.8,525.2L298.3,531.2L295.8,534.3L293.3,537.0L290.8,540.0L288.3,543.6L285.8,547.5L283.3,552.0L280.8,556.3L278.3,560.2L275.8,563.8L273.3,566.1L270.8,568.0L268.3,569.0L265.8,569.4L263.3,570.1L260.8,570.8L258.3,570.9L255.8,571.1L253.3,571.4L250.8,571.8L248.3,572.2L245.8,573.9L243.3,576.0L240.8,577.8L238.3,576.9L235.8,576.1L233.3,575.2L230.8,573.9L228.3,572.8L225.8,571.5L223.3,569.1L220.8,566.6L218.3,564.1L215.8,561.5L213.3,557.5L210.8,554.3L208.3,550.6L205.8,546.7L203.3,542.8L200.8,539.0L198.3,535.1L195.8,531.0L193.3,527.3L190.8,525.0L188.3,523.3L185.8,521.5L183.3,519.6L180.8,517.7L178.3,516.1L175.8,514.8L173.3,513.4L170.8,512.5L168.3,512.3L165.8,512.2L163.3,512.0L160.8,512.0L158.3,512.2L155.8,512.7L153.3,513.4L150.8,514.4L148.3,515.9L145.8,517.8L143.3,519.8L140.8,522.2L138.3,523.3L135.8,524.4L133.3,525.9L130.8,527.5L128.3,528.9L125.8,530.0L123.3,531.0L120.8,532.8L118.3,535.0L115.8,537.2L113.3,539.0L110.8,540.8L108.3,541.4L105.8,542.3L103.3,543.1L100.8,544.4L98.3,545.8L95.8,546.8L93.3,547.7L90.8,548.5L88.3,549.0L85.8,549.5L83.3,550.0L80.8,550.6L78.3,551.1" fill="none" stroke="#a9a9a9" stroke-width="1.15"/>
</g>
<text class="serif" font-size="13.8" fill="#4a4a4a" transform="translate(812.5,246) rotate(-50)">20% above SMA 20</text>
<text class="serif" font-size="13.8" fill="#4a4a4a" transform="translate(813,633) rotate(-49)">20% below SMA 20</text>
<path d="M78.3,381.1L80.8,380.6L83.3,380.0L85.8,379.5L88.3,379.0L90.8,378.5L93.3,377.7L95.8,376.8L98.3,375.8L100.8,374.4L103.3,373.1L105.8,372.3L108.3,371.4L110.8,370.8L113.3,369.0L115.8,367.2L118.3,365.0L120.8,362.8L123.3,361.0L125.8,360.0L128.3,358.9L130.8,357.5L133.3,355.9L135.8,354.4L138.3,353.3L140.8,352.2L143.3,349.8L145.8,347.8L148.3,345.9L150.8,344.4L153.3,343.4L155.8,342.7L158.3,342.2L160.8,342.0L163.3,342.0L165.8,342.2L168.3,342.3L170.8,342.5L173.3,343.4L175.8,344.8L178.3,346.1L180.8,347.7L183.3,349.6L185.8,351.5L188.3,353.3L190.8,355.0L193.3,357.3L195.8,361.0L198.3,365.1L200.8,369.0L203.3,372.8L205.8,376.7L208.3,380.6L210.8,384.3L213.3,387.5L215.8,391.5L218.3,394.1L220.8,396.6L223.3,399.1L225.8,401.5L228.3,402.8L230.8,403.9L233.3,405.2L235.8,406.1L238.3,406.9L240.8,407.8L243.3,406.0L245.8,403.9L248.3,402.2L250.8,401.8L253.3,401.4L255.8,401.1L258.3,400.9L260.8,400.8L263.3,400.1L265.8,399.4L268.3,399.0L270.8,398.0L273.3,396.1L275.8,393.8L278.3,390.2L280.8,386.3L283.3,382.0L285.8,377.5L288.3,373.6L290.8,370.0L293.3,367.0L295.8,364.3L298.3,361.2L300.8,355.2L303.3,349.4L305.8,344.3L308.3,338.6L310.8,331.5L313.3,323.9L315.8,316.8L318.3,309.7L320.8,302.7L323.3,297.2L325.8,293.2L328.3,289.2L330.8,285.7L333.3,282.2L335.8,278.5L338.3,275.6L340.8,272.0L343.3,267.3L345.8,260.6L348.3,254.8L350.8,249.0L353.3,243.0L355.8,238.5L358.3,233.8L360.8,230.0L363.3,226.2L365.8,222.3L368.3,218.9L370.8,214.7L373.3,210.1L375.8,203.3L378.3,196.1L380.8,188.7L383.3,179.8L385.8,171.3L388.3,164.3L390.8,156.6L393.3,147.9L395.8,140.8L398.3,136.2L400.8,132.2L403.3,130.0L405.8,128.5L408.3,127.8L410.8,128.5L413.3,129.8L415.8,132.2L418.3,136.0L420.8,140.9L423.3,147.0L425.8,154.1L428.3,162.4L430.8,171.3L433.3,182.4L435.8,194.1L438.3,206.7L440.8,220.0L443.3,233.7L445.8,246.6L448.3,260.1L450.8,274.7L453.3,288.7L455.8,303.1L458.3,318.0L460.8,331.1L463.3,341.6L465.8,351.1L468.3,360.8L470.8,369.4L473.3,378.4L475.8,388.4L478.3,398.6L480.8,407.5L483.3,414.5L485.8,421.6L488.3,427.6L490.8,433.1L493.3,437.1L495.8,439.6L498.3,441.5L500.8,443.6L503.3,445.5L505.8,446.5L508.3,447.7L510.8,448.8L513.3,448.9L515.8,448.5L518.3,446.8L520.8,443.5L523.3,439.6L525.8,434.6L528.3,429.8L530.8,426.6L533.3,424.2L535.8,423.1L538.3,422.6L540.8,423.1L543.3,424.1L545.8,425.5L548.3,427.0L550.8,428.7L553.3,430.4L555.8,432.7L558.3,436.0L560.8,440.7L563.3,446.5L565.8,452.5L568.3,459.0L570.8,465.2L573.3,470.6L575.8,473.9L578.3,475.9L580.8,477.3L583.3,478.0L585.8,478.6L588.3,479.7L590.8,480.7L593.3,482.4L595.8,484.8L598.3,487.3L600.8,488.3L603.3,487.6L605.8,486.6L608.3,485.8L610.8,486.0L613.3,486.2L615.8,486.5L618.3,486.4L620.8,485.7L623.3,485.6L625.8,485.5L628.3,485.9L630.8,486.6L633.3,487.4L635.8,488.5L638.3,488.8L640.8,487.1L643.3,484.2L645.8,480.9L648.3,478.5L650.8,476.5L653.3,474.8L655.8,471.2L658.3,466.9L660.8,462.1L663.3,457.2L665.8,453.1L668.3,450.3L670.8,448.8L673.3,449.0L675.8,450.0L678.3,451.8L680.8,453.5L683.3,455.4L685.8,457.2L688.3,459.1L690.8,461.6L693.3,466.2L695.8,472.4L698.3,477.7L700.8,482.2L703.3,487.5L705.8,493.0L708.3,498.0L710.8,502.2L713.3,506.5L715.8,510.4L718.3,513.3L720.8,515.1L723.3,516.8L725.8,517.7L728.3,517.8L730.8,518.2L733.3,518.9L735.8,519.9L738.3,519.1L740.8,517.9L743.3,515.4L745.8,512.5L748.3,507.8L750.8,502.7L753.3,497.3L755.8,492.4L758.3,487.5L760.8,482.1L763.3,476.5L765.8,471.3L768.3,466.1L770.8,461.1L773.3,456.3L775.8,451.8L778.3,447.4L780.8,442.4L783.3,436.0L785.8,430.3L788.3,424.7L790.8,420.9L793.3,416.8L795.8,412.9L798.3,412.0L800.8,411.6L803.3,411.2L805.8,410.8L808.3,410.3L810.8,409.6L813.3,408.5L815.8,407.1L818.3,405.8L820.8,404.4L823.3,403.6L825.8,404.2L828.3,403.5L830.8,402.7L833.3,402.2L835.8,400.9L838.3,399.4L840.8,397.4L843.3,395.2L845.8,392.9L848.3,388.3L850.8,383.1L853.3,378.1L855.8,371.6L858.3,364.8L860.8,359.1L863.3,354.7L865.8,349.2L868.3,344.5L870.8,339.8L873.3,334.5L875.8,329.0L878.3,323.1L880.8,318.3L883.3,313.9L885.8,309.2L888.3,306.2L890.8,303.0L893.3,299.3L895.8,296.1L898.3,292.9L900.8,289.5L903.3,287.4L905.8,286.8L908.3,287.4L910.8,289.1L913.3,291.1L915.8,293.1L918.3,294.7L920.8,296.5L923.3,300.2L925.8,305.5L928.3,311.3L930.8,317.6L933.3,324.8L935.8,331.1L938.3,337.1L940.8,345.8L943.3,354.8L945.8,361.6L948.3,369.9L950.8,378.7L953.3,387.2L955.8,395.6L958.3,404.3L960.8,413.5L963.3,421.2L965.8,428.0L968.3,434.9L970.8,443.1L973.3,447.0L975.8,454.7L978.3,460.3L980.8,465.7L983.3,471.9L985.8,478.4L988.3,484.4L990.8,490.9L993.3,496.6L995.8,501.5L998.3,504.1L1000.8,506.4L1003.3,506.9L1005.8,507.0L1008.3,505.7L1010.8,504.5L1013.3,503.7L1015.8,502.9L1018.3,502.8L1020.8,502.6L1023.3,502.9L1025.8,503.2L1028.3,503.6L1030.8,503.9L1033.3,502.5L1035.8,501.2L1038.3,499.9L1040.8,498.9L1043.3,499.0L1045.8,499.6L1048.3,500.4L1050.8,502.5L1053.3,505.3L1055.8,508.4L1058.3,511.9L1060.8,515.6L1063.3,520.5L1065.8,525.5L1068.3,530.4L1070.8,535.6L1073.3,541.4L1075.8,545.9L1078.3,551.8L1080.8,557.9L1083.3,562.9L1085.8,568.8L1088.3,575.4L1090.8,580.9L1093.3,585.5L1095.8,588.7L1098.3,591.4L1100.8,591.1L1103.3,589.7L1105.8,588.5L1108.3,587.1L1110.8,584.7L1113.3,582.7L1115.8,581.2L1118.3,579.6L1120.8,578.1L1123.3,577.0L1125.8,575.6L1128.3,574.6L1130.8,573.6L1133.3,572.0L1135.8,569.5L1138.3,566.5L1140.8,562.9L1143.3,559.6L1145.8,557.2L1148.3,554.7L1150.8,554.2L1153.3,555.2L1155.8,556.9L1158.3,560.1L1160.8,562.8L1163.3,565.3L1165.8,567.5L1168.3,569.1L1170.8,570.7L1173.3,572.4L1175.8,574.3L1178.3,575.5L1180.8,576.5L1183.3,577.4L1185.8,578.5L1188.3,579.6L1190.8,581.0L1193.3,582.3L1195.8,583.9L1198.3,586.8L1200.8,589.3L1203.3,591.6L1205.8,592.7L1208.3,590.9L1210.8,589.5L1213.3,588.3L1215.8,586.9L1218.3,586.2L1220.8,585.3L1223.3,582.9L1225.8,579.9L1228.3,576.6L1230.8,573.3L1233.3,569.5L1235.8,565.6L1238.3,563.0L1240.8,560.4L1243.3,558.7L1245.8,557.7L1248.3,556.9L1250.8,556.2L1253.3,554.9L1255.8,554.5L1258.3,555.3L1260.8,556.1L1263.3,556.6L1265.8,557.2L1268.3,557.5L1270.8,558.5L1273.3,556.4L1275.8,554.8L1278.3,553.4L1280.8,550.5L1283.3,546.6L1285.8,541.9L1288.3,536.9L1290.8,531.6L1293.3,525.0L1295.8,518.8L1298.3,513.1L1300.8,507.0L1303.3,497.8L1305.8,490.2L1308.3,481.3L1310.8,474.7L1313.3,468.5L1315.8,461.2L1318.3,452.6L1320.8,445.8L1322.7,441.1" fill="none" stroke="#111" stroke-width="1.8" stroke-dasharray="1.9,2.4"/>
<polyline points="76.0,368.0 78.2,362.8 82.0,366.2 84.6,369.3 87.2,370.0 89.2,374.0 91.5,382.6 93.7,386.0 95.8,380.9 97.5,376.6 100.9,374.8 103.5,361.9 106.1,349.1 108.2,344.8 111.2,343.6 113.8,345.3 116.1,342.2 118.5,343.9 121.0,347.0 123.6,343.6 126.7,341.3 130.1,340.1 133.2,341.8 136.2,344.8 138.7,349.1 140.8,347.0 143.0,342.2 146.0,335.7 148.2,339.6 150.8,339.1 153.3,337.4 155.9,340.5 158.5,341.7 161.9,342.2 164.2,347.7 166.2,342.2 169.3,342.2 171.4,346.5 173.1,354.2 175.2,366.2 177.4,370.5 180.8,374.0 183.4,379.1 185.5,381.4 188.6,378.6 190.3,388.6 192.9,400.6 195.1,412.6 196.3,419.9 198.0,416.9 199.7,423.0 201.8,431.2 203.7,418.7 205.8,415.2 208.9,414.0 211.3,410.1 214.4,407.5 216.9,402.3 218.7,398.9 221.2,398.0 224.1,411.3 227.2,409.2 229.8,405.8 233.6,388.9 235.8,398.0 239.3,400.3 241.0,395.5 243.6,374.8 246.5,369.3 248.7,393.7 250.8,413.5 253.5,413.5 255.6,405.8 258.2,411.8 261.6,410.1 263.3,397.2 265.9,388.9 269.0,395.1 271.1,374.8 273.6,371.4 276.2,362.8 278.0,345.0 281.3,323.5 286.0,302.3 288.8,317.0 291.4,320.3 294.3,332.6 296.4,331.1 299.7,310.5 302.9,295.4 306.6,286.7 308.8,295.8 311.6,269.4 313.8,259.6 318.1,254.2 320.9,243.3 323.5,243.3 325.7,257.4 328.9,272.6 332.6,263.9 336.1,255.3 338.7,236.8 341.9,227.5 343.5,217.3 346.1,192.5 349.0,204.7 351.1,208.3 352.9,193.9 356.5,187.6 358.9,166.1 361.5,207.4 364.1,207.4 366.4,185.0 370.0,168.8 371.8,161.6 374.1,134.7 375.9,137.4 378.3,118.0 379.1,100.5 380.2,105.4 381.0,98.9 383.5,91.5 386.0,85.7 388.4,69.3 390.1,52.8 390.6,36.4 391.7,47.9 392.5,64.3 393.9,80.8 394.2,91.9 396.7,90.3 398.3,98.9 400.8,107.1 402.4,116.9 402.8,131.1 403.5,154.5 405.9,150.9 408.5,174.2 411.2,201.1 413.0,226.2 416.1,235.8 418.8,250.1 420.1,271.6 421.0,288.7 423.3,272.5 424.6,278.8 426.4,312.0 428.3,274.9 430.1,296.7 432.3,318.3 435.0,339.8 436.7,348.5 439.3,347.6 441.2,331.0 442.9,345.8 446.5,370.9 448.3,397.8 451.9,410.3 455.9,428.3 458.2,414.8 461.8,411.2 463.6,399.6 466.6,417.5 468.9,410.3 470.7,433.7 472.9,475.9 476.2,518.0 478.3,475.9 480.6,474.1 484.1,492.0 488.2,466.9 490.9,440.0 491.4,431.9 494.1,413.9 495.9,410.3 498.5,414.8 500.3,433.7 503.1,473.2 506.1,456.1 507.9,440.0 508.4,422.9 510.7,437.2 513.8,413.0 515.6,413.0 518.3,375.4 521.9,383.4 523.3,417.5 525.4,380.7 529.0,406.7 530.8,412.1 533.5,428.3 536.2,448.0 536.6,451.7 538.4,453.5 541.1,449.9 543.4,442.7 545.9,449.9 548.8,452.6 551.9,466.9 553.3,501.0 558.1,507.3 560.8,531.5 562.6,536.9 564.4,538.7 566.2,532.4 568.4,545.8 570.7,529.7 572.5,493.8 573.5,454.3 575.6,459.6 578.5,451.1 581.3,420.4 584.1,442.6 586.1,446.9 588.4,471.0 591.2,476.7 594.1,493.7 596.1,523.5 598.3,490.9 603.2,471.0 605.4,475.3 608.9,499.4 612.5,536.3 616.2,576.1 619.6,519.3 622.5,485.2 626.7,445.4 628.7,448.3 631.0,442.0 633.3,452.5 635.3,473.8 638.1,485.2 640.9,448.3 643.2,427.0 645.8,436.9 648.0,445.4 650.9,429.8 655.7,422.2 659.4,432.7 662.8,446.9 665.1,458.2 667.9,456.8 670.8,478.1 675.0,479.5 677.9,490.9 680.7,513.6 683.5,485.2 687.2,490.9 690.6,510.8 692.8,526.2 694.3,548.9 697.1,544.7 698.5,541.8 701.4,551.8 702.8,550.3 705.6,517.7 709.9,531.9 712.7,519.1 715.6,521.9 717.8,500.6 720.7,509.2 723.5,507.7 725.5,495.0 729.8,496.4 733.2,513.4 736.0,509.2 738.8,499.2 740.6,501.2 742.5,496.4 745.4,495.0 746.8,483.6 748.2,452.4 751.1,438.2 753.0,439.6 755.3,421.7 758.7,438.2 763.3,401.8 766.1,405.5 769.0,422.5 771.8,432.5 775.2,406.9 778.6,394.1 780.9,397.0 783.2,387.6 786.6,399.8 789.4,391.3 792.8,389.9 795.7,395.6 797.4,412.6 799.3,432.5 801.3,446.1 803.6,428.2 805.0,442.4 807.9,426.8 811.6,401.2 815.0,391.3 817.8,379.9 820.6,376.2 824.1,397.0 826.3,398.4 828.1,408.2 831.3,405.1 832.8,383.1 835.4,382.5 839.1,356.4 842.3,354.9 846.0,325.0 850.1,345.4 855.4,309.3 858.0,301.5 861.1,281.1 863.3,292.1 865.8,328.2 870.5,314.1 873.7,276.4 875.8,284.2 878.4,265.4 880.6,262.3 883.7,276.4 886.8,301.5 889.3,299.9 893.4,284.2 896.6,278.0 899.4,258.2 902.8,268.5 906.0,285.8 909.1,323.5 910.7,351.7 914.5,343.9 918.5,347.0 922.9,350.1 924.8,383.1 928.0,398.8 932.3,411.4 936.4,430.2 938.4,449.0 945.8,413.5 948.5,455.2 951.1,456.5 953.0,470.0 956.0,504.4 961.9,500.1 964.1,488.8 966.5,474.8 969.2,487.4 972.7,479.4 976.7,496.9 979.9,518.4 982.9,542.6 985.3,558.7 988.0,534.5 989.6,543.9 992.0,531.8 995.5,526.4 997.4,503.6 999.6,488.8 1002.8,483.9 1005.5,498.2 1008.2,482.1 1011.1,476.7 1013.6,465.9 1016.2,468.6 1018.9,485.6 1020.6,478.0 1023.2,480.7 1025.1,507.6 1027.8,523.2 1031.9,519.7 1035.1,521.1 1038.6,513.0 1041.3,521.1 1043.4,539.9 1047.5,525.9 1051.2,537.2 1053.4,539.9 1056.1,553.3 1058.5,546.6 1061.5,550.6 1063.4,559.8 1065.5,561.1 1068.1,584.6 1070.7,601.6 1072.8,605.0 1075.4,600.8 1078.0,616.0 1081.2,634.3 1083.8,646.9 1086.9,639.6 1089.0,640.9 1091.6,636.9 1093.7,629.1 1095.5,589.9 1098.7,571.6 1100.8,515.3 1102.9,508.2 1106.0,554.5 1108.1,511.4 1110.5,495.7 1113.1,514.0 1115.9,524.5 1117.8,572.9 1120.4,567.6 1123.5,583.3 1126.1,587.2 1128.8,600.3 1130.9,604.2 1132.9,616.5 1136.1,595.1 1139.2,568.9 1142.6,557.2 1145.2,550.6 1147.3,508.8 1151.0,512.7 1153.1,551.9 1154.9,538.1 1157.0,555.9 1158.8,579.4 1160.9,593.8 1163.0,558.5 1165.4,576.8 1168.3,592.5 1171.4,604.2 1173.5,610.8 1175.3,636.9 1177.9,621.2 1180.0,622.6 1182.6,627.8 1185.3,625.2 1188.4,584.6 1190.5,604.2 1192.8,579.4 1196.2,566.3 1199.6,579.4 1202.8,577.3 1205.4,578.9 1207.5,540.7 1210.1,550.6 1211.9,544.1 1215.1,557.2 1217.3,563.3 1220.4,569.6 1223.5,568.0 1228.9,574.3 1231.4,550.8 1234.5,538.2 1237.0,549.2 1239.2,536.7 1241.4,535.7 1243.9,550.8 1246.1,549.2 1248.7,563.3 1253.4,563.3 1258.1,555.5 1261.2,566.5 1263.7,563.3 1266.5,570.2 1269.1,561.8 1271.6,569.6 1273.8,550.8 1276.3,538.2 1278.5,510.0 1282.2,494.3 1284.7,481.7 1286.4,455.0 1287.6,436.5 1291.2,434.2 1292.9,408.3 1295.2,437.2 1298.3,419.7 1300.3,430.5 1303.0,417.7 1306.4,429.1 1310.4,419.7 1313.8,396.2 1315.8,405.6 1318.1,400.2 1321.2,410.3 1323.2,437.2" fill="none" stroke="#161616" stroke-width="1.75" stroke-linejoin="round" stroke-linecap="round"/>
<line x1="367.0" y1="209.5" x2="393.9" y2="35.6" stroke="#cf3a1c" stroke-width="1.9" stroke-dasharray="5,3.4"/>
<line x1="1276.6" y1="569.6" x2="1302.1" y2="395.2" stroke="#cf3a1c" stroke-width="1.9" stroke-dasharray="5,3.4"/>
<ellipse cx="389.3" cy="38.3" rx="18.9" ry="20.2" fill="none" stroke="#3b7be0" stroke-width="1.65"/>
<ellipse cx="1298.9" cy="402.5" rx="23.5" ry="19.7" fill="none" stroke="#3b7be0" stroke-width="1.65"/>
<text class="serif" x="22.2" y="78.2" font-size="43.2" fill="#111" stroke="#111" stroke-width="0.12" textLength="143.6" lengthAdjust="spacingAndGlyphs">40 Years</text>
<text class="serif" x="23.3" y="110.3" font-size="23.6" fill="#111" stroke="#111" stroke-width="0.25" textLength="64.2" lengthAdjust="spacingAndGlyphs">USDX</text>
<text class="serif" x="22.2" y="136.2" font-size="16.5" fill="#111" stroke="#111" stroke-width="0.15" textLength="67.2" lengthAdjust="spacingAndGlyphs">(Monthly)</text>
<path d="M24,186.5C27,176 33,171 40,171.5C52,172.5 62,191 76,191.5C85,192 92,187 96.5,181.5" fill="none" stroke="#111" stroke-width="2.4" stroke-linecap="round" stroke-dasharray="0.1,4.2"/>
<text class="serif" x="106.2" y="188.6" font-size="20.6" fill="#111" stroke="#111" stroke-width="0.2" textLength="71" lengthAdjust="spacingAndGlyphs">SMA 20</text>
<g filter="url(#blur)" transform="translate(2.2,2.6)" class="sans" fill="#a2a2a2" stroke="#a2a2a2" stroke-width="0.15"><text x="1177.4" y="55.8" font-size="21.2" style="font-variant:small-caps" textLength="76.8" lengthAdjust="spacingAndGlyphs">Market</text><text x="1289.3" y="55.8" font-size="21.2" style="font-variant:small-caps" textLength="152" lengthAdjust="spacingAndGlyphs">Anthropology</text></g>
<g  transform="translate(0.0,0.0)" class="sans" fill="#151515" stroke="#151515" stroke-width="0.15"><text x="1177.4" y="55.8" font-size="21.2" style="font-variant:small-caps" textLength="76.8" lengthAdjust="spacingAndGlyphs">Market</text><text x="1289.3" y="55.8" font-size="21.2" style="font-variant:small-caps" textLength="152" lengthAdjust="spacingAndGlyphs">Anthropology</text></g>
<g fill="none" stroke-linecap="round">
<path d="M1270.5,38.2H1277M1270,47.2H1277.5M1269.5,49.2H1278M1269.5,51.2H1278M1270,53.2H1277.5M1271,55H1276.5M1270.5,62.2H1276.5" stroke="#8a8a8a" stroke-width="0.9"/>
<path d="M1279.3,35.9C1277.5,39 1275,41.5 1273.3,42.7" stroke="#1a1a1a" stroke-width="1.2"/>
<path d="M1273.3,42.7C1270,45 1267.9,47.5 1267.9,50.6C1267.9,54 1270.5,56.5 1274,59" stroke="#1a1a1a" stroke-width="2.4"/>
<path d="M1274,59C1276.5,60.8 1278,62.5 1278.6,64" stroke="#1a1a1a" stroke-width="1.7"/>
<path d="M1267.9,35.4C1269,40 1271.5,41.8 1273.2,42.9" stroke="#1a1a1a" stroke-width="2.7"/>
<path d="M1273.2,42.9C1277,45.5 1279.4,48 1279.4,51C1279.4,54.5 1277,56.5 1274,59" stroke="#1a1a1a" stroke-width="1.5"/>
<path d="M1274,59C1271,61.2 1268.8,62.8 1267.9,64.1" stroke="#1a1a1a" stroke-width="2.2"/>
<path d="M1267.6,64.3H1278.8" stroke="#1a1a1a" stroke-width="1.2"/>
</g>
<text class="sans" x="1353.4" y="75" font-size="9.4" fill="#3c3c3c" textLength="77" lengthAdjust="spacingAndGlyphs">©StockCharts.com</text>
<g class="sans" font-size="11" fill="#111" stroke="#111" stroke-width="0.25">
<text x="1524.3" y="42.2" textLength="24.4" lengthAdjust="spacingAndGlyphs">160.0</text>
<text x="1524.3" y="54.2" textLength="24.4" lengthAdjust="spacingAndGlyphs">157.5</text>
<text x="1524.3" y="66.4" textLength="24.4" lengthAdjust="spacingAndGlyphs">155.0</text>
<text x="1524.3" y="78.8" textLength="24.4" lengthAdjust="spacingAndGlyphs">152.5</text>
<text x="1524.3" y="91.4" textLength="24.4" lengthAdjust="spacingAndGlyphs">150.0</text>
<text x="1524.3" y="104.2" textLength="24.4" lengthAdjust="spacingAndGlyphs">147.5</text>
<text x="1524.3" y="117.3" textLength="24.4" lengthAdjust="spacingAndGlyphs">145.0</text>
<text x="1524.3" y="130.5" textLength="24.4" lengthAdjust="spacingAndGlyphs">142.5</text>
<text x="1524.3" y="144.0" textLength="24.4" lengthAdjust="spacingAndGlyphs">140.0</text>
<text x="1524.3" y="157.8" textLength="24.4" lengthAdjust="spacingAndGlyphs">137.5</text>
<text x="1524.3" y="171.8" textLength="24.4" lengthAdjust="spacingAndGlyphs">135.0</text>
<text x="1524.3" y="186.0" textLength="24.4" lengthAdjust="spacingAndGlyphs">132.5</text>
<text x="1524.3" y="200.6" textLength="24.4" lengthAdjust="spacingAndGlyphs">130.0</text>
<text x="1524.3" y="215.4" textLength="24.4" lengthAdjust="spacingAndGlyphs">127.5</text>
<text x="1524.3" y="230.5" textLength="24.4" lengthAdjust="spacingAndGlyphs">125.0</text>
<text x="1524.3" y="245.9" textLength="24.4" lengthAdjust="spacingAndGlyphs">122.5</text>
<text x="1524.3" y="261.6" textLength="24.4" lengthAdjust="spacingAndGlyphs">120.0</text>
<text x="1524.3" y="277.7" textLength="24.4" lengthAdjust="spacingAndGlyphs">117.5</text>
<text x="1524.3" y="294.1" textLength="24.4" lengthAdjust="spacingAndGlyphs">115.0</text>
<text x="1524.3" y="310.8" textLength="24.4" lengthAdjust="spacingAndGlyphs">112.5</text>
<text x="1524.3" y="328.0" textLength="24.4" lengthAdjust="spacingAndGlyphs">110.0</text>
<text x="1524.3" y="345.5" textLength="24.4" lengthAdjust="spacingAndGlyphs">107.5</text>
<text x="1524.3" y="363.5" textLength="24.4" lengthAdjust="spacingAndGlyphs">105.0</text>
<text x="1524.3" y="381.8" textLength="24.4" lengthAdjust="spacingAndGlyphs">102.5</text>
<text x="1524.3" y="400.7" textLength="24.4" lengthAdjust="spacingAndGlyphs">100.0</text>
<text x="1529.7" y="420.0" textLength="19.0" lengthAdjust="spacingAndGlyphs">97.5</text>
<text x="1529.7" y="439.8" textLength="19.0" lengthAdjust="spacingAndGlyphs">95.0</text>
<text x="1529.7" y="460.1" textLength="19.0" lengthAdjust="spacingAndGlyphs">92.5</text>
<text x="1529.7" y="481.0" textLength="19.0" lengthAdjust="spacingAndGlyphs">90.0</text>
<text x="1529.7" y="502.5" textLength="19.0" lengthAdjust="spacingAndGlyphs">87.5</text>
<text x="1529.7" y="524.6" textLength="19.0" lengthAdjust="spacingAndGlyphs">85.0</text>
<text x="1529.7" y="547.4" textLength="19.0" lengthAdjust="spacingAndGlyphs">82.5</text>
<text x="1529.7" y="570.9" textLength="19.0" lengthAdjust="spacingAndGlyphs">80.0</text>
<text x="1529.7" y="595.1" textLength="19.0" lengthAdjust="spacingAndGlyphs">77.5</text>
<text x="1529.7" y="620.1" textLength="19.0" lengthAdjust="spacingAndGlyphs">75.0</text>
<text x="1529.7" y="645.9" textLength="19.0" lengthAdjust="spacingAndGlyphs">72.5</text>
</g>
<g class="sans" font-size="11" fill="#111" stroke="#111" stroke-width="0.25">
<text x="80.3" y="663.8" textLength="11.4" lengthAdjust="spacingAndGlyphs">75</text>
<text x="111.6" y="663.8" textLength="11.4" lengthAdjust="spacingAndGlyphs">76</text>
<text x="140.0" y="663.8" textLength="11.4" lengthAdjust="spacingAndGlyphs">77</text>
<text x="171.0" y="663.8" textLength="11.4" lengthAdjust="spacingAndGlyphs">78</text>
<text x="202.3" y="663.8" textLength="11.4" lengthAdjust="spacingAndGlyphs">79</text>
<text x="230.0" y="663.8" textLength="11.4" lengthAdjust="spacingAndGlyphs">80</text>
<text x="261.0" y="663.8" textLength="11.4" lengthAdjust="spacingAndGlyphs">81</text>
<text x="292.6" y="663.8" textLength="11.4" lengthAdjust="spacingAndGlyphs">82</text>
<text x="320.3" y="663.8" textLength="11.4" lengthAdjust="spacingAndGlyphs">83</text>
<text x="351.6" y="663.8" textLength="11.4" lengthAdjust="spacingAndGlyphs">84</text>
<text x="380.0" y="663.8" textLength="11.4" lengthAdjust="spacingAndGlyphs">85</text>
<text x="411.3" y="663.8" textLength="11.4" lengthAdjust="spacingAndGlyphs">86</text>
<text x="442.6" y="663.8" textLength="11.4" lengthAdjust="spacingAndGlyphs">87</text>
<text x="471.0" y="663.8" textLength="11.4" lengthAdjust="spacingAndGlyphs">88</text>
<text x="501.6" y="663.8" textLength="11.4" lengthAdjust="spacingAndGlyphs">89</text>
<text x="531.0" y="663.8" textLength="11.4" lengthAdjust="spacingAndGlyphs">90</text>
<text x="561.6" y="663.8" textLength="11.4" lengthAdjust="spacingAndGlyphs">91</text>
<text x="590.3" y="663.8" textLength="11.4" lengthAdjust="spacingAndGlyphs">92</text>
<text x="621.0" y="663.8" textLength="11.4" lengthAdjust="spacingAndGlyphs">93</text>
<text x="652.6" y="663.8" textLength="11.4" lengthAdjust="spacingAndGlyphs">94</text>
<text x="680.3" y="663.8" textLength="11.4" lengthAdjust="spacingAndGlyphs">95</text>
<text x="711.6" y="663.8" textLength="11.4" lengthAdjust="spacingAndGlyphs">96</text>
<text x="740.0" y="663.8" textLength="11.4" lengthAdjust="spacingAndGlyphs">97</text>
<text x="771.0" y="663.8" textLength="11.4" lengthAdjust="spacingAndGlyphs">98</text>
<text x="802.0" y="663.8" textLength="11.4" lengthAdjust="spacingAndGlyphs">99</text>
<text x="830.3" y="663.8" textLength="11.4" lengthAdjust="spacingAndGlyphs">00</text>
<text x="861.0" y="663.8" textLength="11.4" lengthAdjust="spacingAndGlyphs">01</text>
<text x="892.6" y="663.8" textLength="11.4" lengthAdjust="spacingAndGlyphs">02</text>
<text x="923.6" y="663.8" textLength="11.4" lengthAdjust="spacingAndGlyphs">03</text>
<text x="952.0" y="663.8" textLength="11.4" lengthAdjust="spacingAndGlyphs">04</text>
<text x="982.6" y="663.8" textLength="11.4" lengthAdjust="spacingAndGlyphs">05</text>
<text x="1011.0" y="663.8" textLength="11.4" lengthAdjust="spacingAndGlyphs">06</text>
<text x="1042.0" y="663.8" textLength="11.4" lengthAdjust="spacingAndGlyphs">07</text>
<text x="1073.6" y="663.8" textLength="11.4" lengthAdjust="spacingAndGlyphs">08</text>
<text x="1102.0" y="663.8" textLength="11.4" lengthAdjust="spacingAndGlyphs">09</text>
<text x="1133.6" y="663.8" textLength="11.4" lengthAdjust="spacingAndGlyphs">10</text>
<text x="1161.6" y="663.8" textLength="11.4" lengthAdjust="spacingAndGlyphs">11</text>
<text x="1193.6" y="663.8" textLength="11.4" lengthAdjust="spacingAndGlyphs">12</text>
<text x="1224.3" y="663.8" textLength="11.4" lengthAdjust="spacingAndGlyphs">13</text>
<text x="1253.3" y="663.8" textLength="11.4" lengthAdjust="spacingAndGlyphs">14</text>
<text x="1284.3" y="663.8" textLength="11.4" lengthAdjust="spacingAndGlyphs">15</text>
<text x="1315.3" y="663.8" textLength="11.4" lengthAdjust="spacingAndGlyphs">16</text>
<text x="1343.6" y="663.8" textLength="11.4" lengthAdjust="spacingAndGlyphs">17</text>
<text x="1375.0" y="663.8" textLength="11.4" lengthAdjust="spacingAndGlyphs">18</text>
<text x="1406.0" y="663.8" textLength="11.4" lengthAdjust="spacingAndGlyphs">19</text>
<text x="1434.3" y="663.8" textLength="11.4" lengthAdjust="spacingAndGlyphs">20</text>
<text x="1462.6" y="663.8" textLength="11.4" lengthAdjust="spacingAndGlyphs">21</text>
<text x="1493.6" y="663.8" textLength="11.4" lengthAdjust="spacingAndGlyphs">22</text>
</g>
<rect x="0" y="0" width="1589" height="2" fill="#a4a4a4"/>
<rect x="0" y="0" width="1" height="669" fill="#c4c4c4"/>
<rect x="1" y="1" width="1" height="668" fill="#7d7d7d"/>
<rect x="1588" y="1" width="1" height="668" fill="#000"/>
<rect x="0" y="668" width="1589" height="1" fill="#333"/>
</svg></body></html>
